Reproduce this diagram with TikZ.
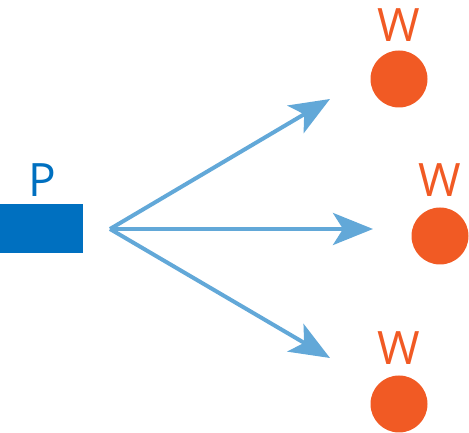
\documentclass[tikz,border=0pt]{standalone}
\usepackage{fontspec}
\setmainfont{Open Sans}
\usetikzlibrary{arrows.meta}
\definecolor{pblue}{HTML}{0070C0}
\definecolor{ablue}{HTML}{62A8D8}
\definecolor{worange}{HTML}{F15A24}
\begin{document}
\begin{tikzpicture}[x=1pt,y=1pt,
  lbl/.style={inner sep=0pt, anchor=base, font=\fontsize{46}{46}\selectfont},
  wdot/.style={circle, fill=worange, inner sep=0pt, minimum size=57pt},
  flow/.style={ablue, line width=4pt, -{Stealth[length=40pt, width=32pt, inset=10pt]}}]
\useasboundingbox (0,0) rectangle (469,433);
\node[fill=pblue, inner sep=0pt, minimum width=83pt, minimum height=49pt] (p) at (41.5,204.5) {};
\node[lbl, text=pblue] (pl) at (42,236) {P};
\node[wdot] (w1) at (399,354) {};
\node[wdot] (w2) at (440,197) {};
\node[wdot] (w3) at (399,29) {};
\node[lbl, text=worange] (l1) at (399,391) {W};
\node[lbl, text=worange] (l2) at (440,236) {W};
\node[lbl, text=worange] (l3) at (399,68) {W};
\coordinate (o) at (110,204);
\coordinate (t1) at (330,334);
\coordinate (t2) at (373,204);
\coordinate (t3) at (330,75);
\draw[flow] (o) -- (t1);
\draw[flow] (o) -- (t2);
\draw[flow] (o) -- (t3);
\end{tikzpicture}
\end{document}
